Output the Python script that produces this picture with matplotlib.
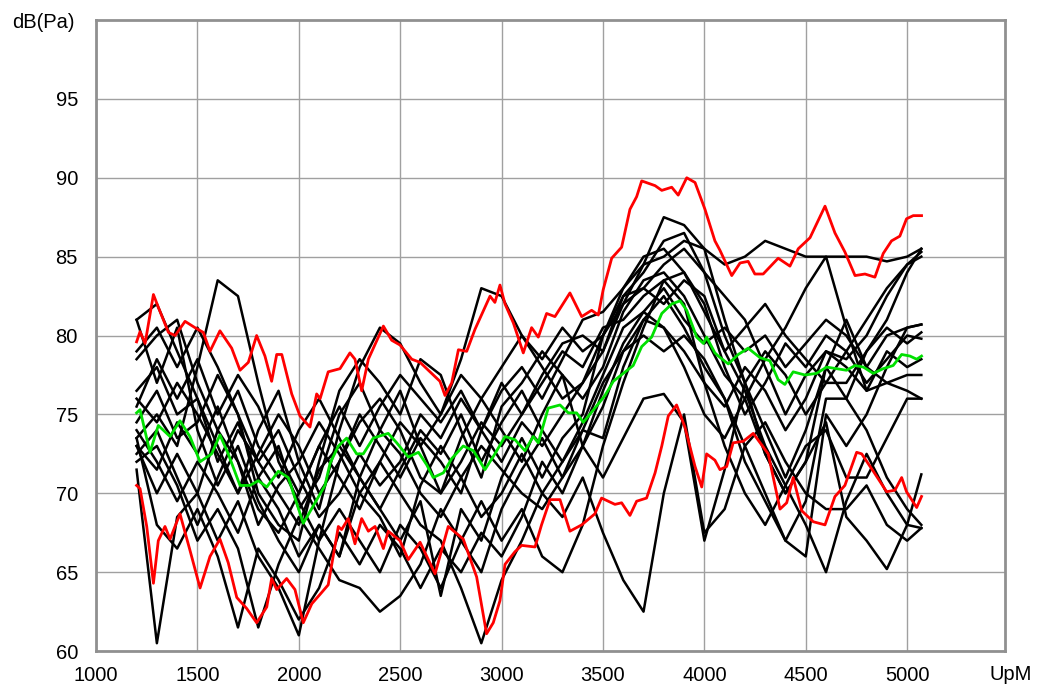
import matplotlib
matplotlib.use("Agg")
import matplotlib.pyplot as plt

plt.rcParams['font.family'] = ['Liberation Sans', 'DejaVu Sans']

# engine speed grid of the single runs (UpM)
rpm = [1200, 1300, 1400, 1500, 1600, 1700, 1800, 1900, 2000, 2100,
       2200, 2300, 2400, 2500, 2600, 2700, 2800, 2900, 3000, 3100,
       3200, 3300, 3400, 3500, 3600, 3700, 3800, 3900, 4000, 4100,
       4200, 4300, 4400, 4500, 4600, 4700, 4800, 4900, 5000, 5070]

# single runs, dB(Pa)
runs = [
    [81, 82, 79, 76, 72, 74.5, 71, 73, 69, 71, 75, 77, 74, 76.5, 73, 75, 77.5, 76, 78, 80,
     78.5, 80.5, 79, 80, 82, 84.5, 87.5, 87, 85.5, 84.5, 85, 86, 85.5, 85, 85, 85, 85, 84.7, 85, 85.5],
    [73.5, 75, 73, 78, 83.5, 82.5, 77, 72, 69.5, 67, 72, 75, 73, 71, 73.5, 72, 70, 74, 72, 74.5,
     73, 75, 77, 79, 82.5, 84, 86, 86.5, 84, 80, 77, 74, 71, 74, 78, 81, 78, 80, 80.5, 80.7],
    [71.5, 60.5, 68.5, 70, 67, 69.5, 66, 64, 61, 67, 69, 67, 65, 68, 66.5, 64, 67, 69.5, 67, 69,
     66, 65, 68, 73, 77, 80.5, 83.5, 82, 77, 73, 70, 68, 70.5, 73, 74, 71, 71, 73.5, 76, 76],
    [76.5, 78, 75, 76, 73, 70, 74, 76.5, 72, 69, 74, 78, 80.5, 79.5, 77, 75, 78.5, 83, 82.5, 80,
     78, 76, 77, 80, 83, 85, 85.5, 84, 82, 78, 75, 77, 79.5, 78, 80, 79, 77, 78.5, 80, 79.8],
    [73, 70, 72.5, 70, 74, 72, 69, 67.5, 70, 73, 71, 69, 72, 70, 68, 67, 64, 60.5, 64.5, 67,
     70, 72, 74, 73.5, 78, 81, 82.5, 80.5, 78, 76, 73, 70, 67, 69.5, 76, 76, 74, 71, 69, 68],
    [74, 72, 69.5, 72, 70, 67.5, 71, 69, 66, 68, 66, 70, 68.5, 66, 70.5, 73, 71, 68.5, 70, 72.5,
     70, 68.5, 71, 67.5, 64.5, 62.5, 70, 75, 67.5, 69, 73, 74.5, 72, 70, 69, 69, 70.5, 68, 67, 67.8],
    [72.5, 74, 71, 68, 71, 74, 72, 70, 68, 71.5, 73, 71, 74, 72.5, 70, 68.5, 71, 73, 71.5, 70,
     69, 71, 73, 71, 73.5, 76, 76.3, 74.5, 67, 71.5, 77, 79, 77.5, 75, 77, 77, 79, 80.5, 79.5, 80.2],
    [76, 74.5, 77, 75, 72.5, 70, 72.5, 75, 73, 70, 72, 74.5, 76, 74, 71, 70, 73.5, 76, 74, 72,
     75, 77.5, 76, 78, 81.5, 83.5, 84, 82.5, 80, 77.5, 76, 78.5, 80.5, 83, 85, 80.5, 76.5, 79, 78, 78.5],
    [73, 71.5, 74.5, 72.5, 75.5, 72, 68, 70.5, 72, 74.5, 72.5, 70, 72, 74.5, 73, 70, 72, 74.5, 73, 75,
     77.5, 79.5, 80, 79, 82, 83, 82, 83.5, 82.5, 79, 76.5, 73, 70.5, 68, 65, 69.5, 72.5, 70, 68, 67.8],
    [78.5, 80, 81, 77, 74, 76.5, 73, 71, 74, 76, 73.5, 71, 69, 71.5, 74, 72.5, 75, 72, 74.5, 76.5,
     74, 72, 74.5, 77.5, 80.5, 81.5, 80.5, 78, 75, 73.5, 76, 72.5, 70, 72, 74.5, 68.5, 67, 65.2, 68, 71.2],
    [79, 80.5, 78, 80.5, 78, 75, 72, 74, 71, 68.5, 70, 72.5, 70.5, 72, 75, 73.5, 76, 74, 76.5, 78,
     76, 78.5, 81, 81.5, 83, 84.5, 85, 86, 85.5, 81, 77, 72.5, 70, 72, 78, 76, 79, 81, 84, 85.5],
    [81, 77, 80.5, 74, 70.5, 73, 69.5, 67, 65, 68, 66, 71, 69, 67, 69.5, 63.5, 69, 67, 71, 73.5,
     71, 73.5, 75, 80, 82.5, 83, 84.5, 85.5, 84, 82.5, 81, 78, 75, 77.5, 79, 78.5, 80, 82.5, 84.5, 85.3],
    [73.5, 68, 66.5, 69, 66, 61.5, 66.5, 64.5, 62, 64, 67.5, 65.5, 68, 66.5, 64, 66.5, 65, 67.5, 66, 68.5,
     72, 70, 73, 75.5, 79, 81, 80.5, 79, 77, 75.5, 78, 76.5, 74, 76, 79, 78, 76.5, 77, 77.5, 77.5],
    [74.5, 76.5, 73.5, 74.5, 77.5, 75, 70, 68, 67, 72, 76.5, 78.5, 77, 75, 78.5, 77.5, 74, 71, 75.5, 77,
     79, 77.5, 73, 76.5, 79.5, 81.5, 83, 81, 79.5, 80.5, 79, 80, 78, 79.5, 81, 80, 78, 77, 76.5, 76],
    [72, 73, 70.5, 67, 69, 66.5, 61.5, 65.5, 68.5, 66.5, 64.5, 64, 62.5, 63.5, 65.5, 69, 67, 65, 69, 71.5,
     73.5, 71, 74, 77, 79, 80, 79, 80, 78.5, 76, 72, 69.5, 67, 66, 75, 73, 75, 78, 80.5, 80.7],
    [75.5, 78.5, 76, 78.5, 75, 77.5, 75.5, 72.5, 70, 73, 75.5, 73, 75.5, 77.5, 76, 74.5, 76.5, 74, 77, 75,
     77, 79, 78, 80.5, 81, 82.5, 83.5, 84, 81.5, 79, 80.5, 82, 80, 78.5, 77, 79, 81, 83, 84.5, 85],
]

# upper limit curve (red)
upper_x = [1200, 1217, 1242, 1283, 1307, 1357, 1390, 1439, 1488, 1529, 1562, 1611, 1669, 1710,
           1751, 1792, 1833, 1866, 1891, 1916, 1965, 2006, 2055, 2088, 2105, 2145, 2203, 2252,
           2277, 2310, 2343, 2417, 2458, 2499, 2557, 2598, 2647, 2696, 2721, 2754, 2787, 2828,
           2869, 2943, 2967, 2992, 3017, 3058, 3107, 3148, 3181, 3222, 3263, 3337, 3395, 3444,
           3477, 3501, 3543, 3592, 3633, 3666, 3691, 3757, 3790, 3839, 3871, 3913, 3954, 4003,
           4052, 4077, 4135, 4176, 4216, 4249, 4290, 4364, 4422, 4463, 4521, 4595, 4644, 4693,
           4743, 4792, 4841, 4882, 4923, 4964, 4997, 5030, 5071]
upper_y = [79.6, 80.25, 79.5, 82.6, 81.8, 80.2, 80.0, 80.9, 80.5, 80.2, 79.0, 80.3, 79.2, 77.8,
           78.3, 80.0, 78.7, 77.1, 78.8, 78.8, 76.3, 74.9, 74.2, 76.3, 76.0, 77.7, 77.9, 78.9,
           78.5, 76.5, 78.5, 80.6, 79.7, 79.4, 78.5, 78.3, 77.7, 77.1, 76.2, 77.0, 79.1, 79.0,
           80.4, 82.5, 82.1, 83.2, 82.0, 80.8, 78.9, 80.5, 79.9, 81.4, 81.2, 82.7, 81.2, 81.6,
           81.3, 82.9, 84.9, 85.6, 88.0, 88.8, 89.8, 89.5, 89.2, 89.4, 88.9, 90.0, 89.7, 88.0,
           86.0, 85.4, 83.8, 84.6, 84.7, 83.9, 83.9, 84.9, 84.4, 85.5, 86.2, 88.2, 86.5, 85.3,
           83.8, 83.9, 83.7, 85.2, 86.0, 86.3, 87.4, 87.6, 87.6]

# lower limit curve (red)
lower_x = [1200, 1217, 1250, 1283, 1307, 1340, 1365, 1414, 1463, 1513, 1562, 1611, 1652, 1694,
           1743, 1792, 1842, 1866, 1891, 1940, 1981, 2022, 2064, 2105, 2145, 2195, 2211, 2244,
           2277, 2310, 2343, 2376, 2417, 2441, 2499, 2540, 2598, 2672, 2737, 2811, 2877, 2926,
           2959, 2992, 3017, 3066, 3099, 3165, 3197, 3239, 3288, 3337, 3395, 3460, 3493, 3559,
           3592, 3633, 3666, 3715, 3757, 3790, 3822, 3863, 3904, 3954, 3987, 4011, 4052, 4077,
           4110, 4142, 4192, 4241, 4315, 4373, 4406, 4438, 4480, 4537, 4595, 4644, 4693, 4751,
           4776, 4833, 4899, 4940, 4973, 4997, 5047, 5071]
lower_y = [70.5, 70.3, 67.9, 64.3, 67.0, 67.9, 67.1, 68.7, 66.4, 64.0, 66.0, 67.1, 65.6, 63.4,
           62.7, 61.8, 62.8, 64.6, 63.9, 64.6, 63.9, 61.8, 63.0, 63.6, 64.2, 67.9, 67.7, 68.4,
           66.8, 68.4, 67.6, 67.9, 66.5, 67.6, 67.0, 65.8, 66.9, 64.9, 67.9, 67.1, 64.7, 61.1,
           61.8, 63.2, 65.5, 66.3, 66.7, 66.6, 68.0, 69.6, 69.6, 67.6, 68.0, 68.7, 69.7, 69.3,
           69.4, 68.6, 69.5, 69.7, 71.3, 73.0, 74.9, 75.6, 74.2, 71.7, 70.4, 72.5, 72.1, 71.5,
           71.7, 73.2, 73.3, 73.8, 72.5, 69.0, 69.4, 71.0, 68.9, 68.2, 68.0, 69.8, 70.5, 72.6,
           72.5, 71.4, 70.1, 70.2, 71.0, 70.1, 69.1, 69.8]

# mean curve (green)
mean_x = [1200, 1217, 1266, 1307, 1365, 1414, 1463, 1513, 1570, 1611, 1652, 1710, 1759, 1800,
          1842, 1899, 1948, 2022, 2080, 2129, 2154, 2195, 2236, 2285, 2318, 2367, 2441, 2483,
          2540, 2590, 2631, 2663, 2713, 2754, 2811, 2861, 2918, 2967, 3017, 3066, 3115, 3156,
          3181, 3230, 3288, 3329, 3370, 3403, 3460, 3510, 3551, 3600, 3649, 3691, 3740, 3790,
          3839, 3880, 3913, 3962, 3995, 4011, 4052, 4069, 4118, 4167, 4216, 4274, 4323, 4364,
          4397, 4438, 4496, 4553, 4603, 4652, 4701, 4743, 4784, 4833, 4882, 4931, 4973, 5014,
          5047, 5071]
mean_y = [75.1, 75.3, 72.6, 74.3, 73.6, 74.6, 73.6, 72.0, 72.5, 73.7, 72.5, 70.5, 70.5, 70.8,
          70.4, 71.4, 71.0, 68.1, 69.4, 70.5, 71.9, 73.0, 73.5, 72.5, 72.5, 73.5, 73.8, 73.2,
          72.3, 72.6, 71.8, 71.0, 71.3, 72.2, 73.0, 72.7, 71.5, 72.5, 73.6, 73.4, 72.7, 73.6,
          73.2, 75.4, 75.6, 75.1, 75.1, 74.5, 75.4, 76.2, 77.1, 77.6, 78.1, 79.3, 79.9, 81.4,
          82.0, 82.2, 81.6, 79.9, 79.5, 79.9, 78.9, 78.7, 78.2, 78.8, 79.2, 78.6, 78.4, 77.2,
          76.9, 77.7, 77.5, 77.6, 78.0, 77.9, 77.8, 78.1, 78.0, 77.6, 77.9, 78.1, 78.8, 78.7,
          78.5, 78.7]

fig = plt.figure(figsize=(10.45, 6.89), dpi=100)
ax = fig.add_axes([0.0919, 0.055, 0.8699, 0.916])

for run in runs:
    ax.plot(rpm, run, color='black', lw=1.8)
ax.plot(upper_x, upper_y, color='#ff0000', lw=2.0)
ax.plot(lower_x, lower_y, color='#ff0000', lw=2.0)
ax.plot(mean_x, mean_y, color='#00e000', lw=2.0)

ax.set_xlim(1000, 5483)
ax.set_ylim(60, 100)
ax.set_xticks(range(1000, 5001, 500))
ax.set_yticks(range(60, 100, 5))
ax.grid(True, color='#a0a0a0', lw=1.0)
ax.set_axisbelow(True)
ax.tick_params(length=0, labelsize=14.5)
ax.tick_params(axis='x', pad=11)
ax.tick_params(axis='y', pad=13)
for sp in ax.spines.values():
    sp.set_color('#909090')
    sp.set_linewidth(2)

fig.text(0.012, 0.968, 'dB(Pa)', fontsize=14.5, ha='left', va='center')
fig.text(0.987, 0.021, 'UpM', fontsize=14.5, ha='right', va='center')

fig.savefig('out.png', dpi=100)
